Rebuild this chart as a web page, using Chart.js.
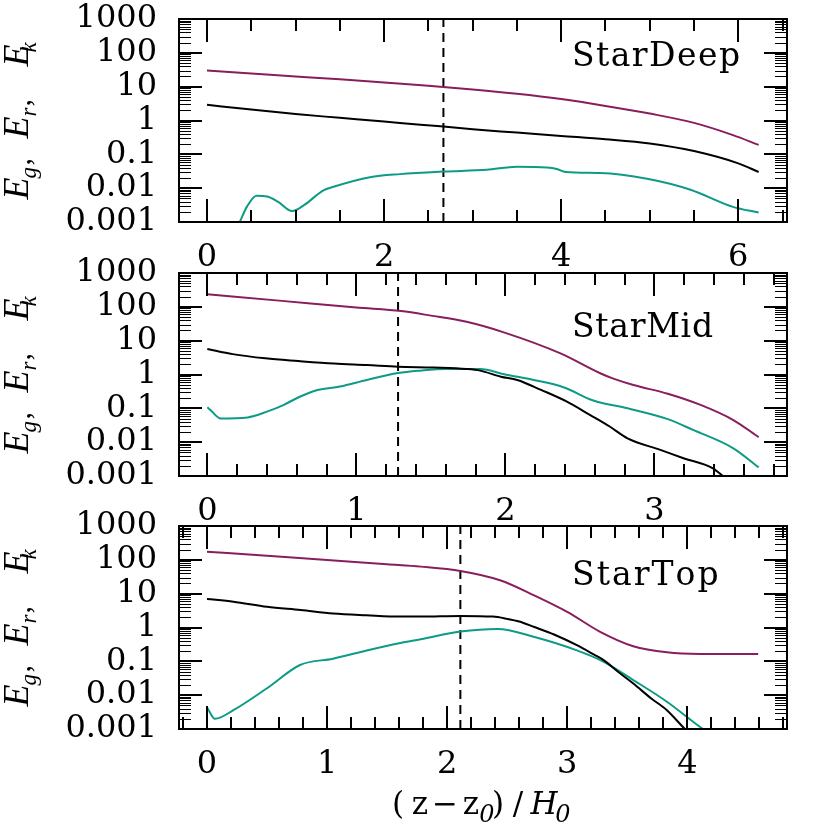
<!DOCTYPE html>
<html>
<head>
<meta charset="utf-8">
<script src="https://cdn.jsdelivr.net/npm/chart.js@4.4.1/dist/chart.umd.min.js"></script>
<style>
  html, body { margin: 0; padding: 0; background: #fff; }
  #wrap { position: relative; width: 830px; height: 830px; }
  #wrap canvas { position: absolute; left: 0; top: 0; }
</style>
</head>
<body>
<div id="wrap">
  <canvas id="c1" width="830" height="830"></canvas>
  <canvas id="c2" width="830" height="830"></canvas>
  <canvas id="c3" width="830" height="830"></canvas>
</div>
<script>
// ---------------- DATA ----------------
const yTickValues = [0.001, 0.01, 0.1, 1, 10, 100, 1000];
const yTickLabels = ["0.001", "0.01", "0.1", "1", "10", "100", "1000"];

// Panel 1: StarDeep
const deepX_Ek = [0, 0.5, 1, 1.5, 2, 2.5, 3, 3.5, 4, 4.5, 5, 5.5, 5.94, 6.23];
const deepEk   = [30, 24.5, 20, 16.5, 13.3, 10.7, 8.3, 6.2, 4.3, 2.7, 1.6, 0.85, 0.37, 0.19];
const deepX_Er = [0, 0.5, 1, 1.5, 2, 2.41, 2.67, 3, 3.5, 4, 4.5, 5, 5.5, 6, 6.23];
const deepEr   = [2.9, 2.1, 1.55, 1.2, 0.93, 0.75, 0.66, 0.55, 0.44, 0.35, 0.28, 0.21, 0.125, 0.054, 0.03];
const deepX_Eg = [0.33, 0.37, 0.45, 0.56, 0.68, 0.8, 0.96, 1.1, 1.31, 1.43, 1.84, 2.18, 2.67, 3.16, 3.5, 3.84, 3.95, 4.05, 4.44, 4.97, 5.46, 5.94, 6.23];
const deepEg   = [0.0006, 0.001, 0.0028, 0.006, 0.0057, 0.004, 0.0021, 0.0032, 0.0085, 0.011, 0.021, 0.026, 0.031, 0.035, 0.043, 0.041, 0.037, 0.03, 0.028, 0.019, 0.009, 0.0028, 0.0019];
const deepMark = 2.67;
const deepXTicks = [0, 2, 4, 6];

// Panel 2: StarMid
const midX_Ek = [0, 0.5, 1, 1.3, 1.5, 1.74, 2.0, 2.37, 2.64, 2.72, 2.86, 3.09, 3.31, 3.53, 3.70];
const midEk   = [234, 150, 95, 75, 55, 36, 17, 4.2, 1.07, 0.77, 0.49, 0.27, 0.126, 0.045, 0.014];
const midX_Er = [0, 0.17, 0.39, 0.61, 0.85, 1.07, 1.28, 1.52, 1.74, 1.83, 1.97, 2.08, 2.24, 2.41, 2.57, 2.7, 2.82, 3.04, 3.2, 3.39, 3.5];
const midEr   = [5.7, 4.0, 3.0, 2.5, 2.1, 1.9, 1.7, 1.6, 1.45, 1.3, 0.86, 0.69, 0.35, 0.16, 0.063, 0.029, 0.013, 0.0059, 0.0033, 0.0017, 0.0007];
const midX_Eg = [0, 0.02, 0.09, 0.27, 0.4, 0.51, 0.62, 0.74, 0.89, 1.07, 1.28, 1.43, 1.6, 1.83, 2.0, 2.19, 2.39, 2.59, 2.82, 3.09, 3.26, 3.53, 3.70];
const midEg   = [0.107, 0.09, 0.05, 0.054, 0.08, 0.125, 0.22, 0.35, 0.44, 0.69, 1.1, 1.3, 1.45, 1.45, 1.0, 0.69, 0.42, 0.17, 0.1, 0.048, 0.023, 0.0066, 0.0018];
const midMark = 1.28;
const midXTicks = [0, 1, 2, 3];

// Panel 3: StarTop
const topX_Ek = [0, 0.5, 1.0, 1.5, 1.78, 2.11, 2.44, 2.72, 3.0, 3.27, 3.55, 3.83, 4.11, 4.59];
const topEk   = [174, 131, 99, 74, 63, 47, 25, 9.1, 2.9, 0.76, 0.28, 0.185, 0.166, 0.165];
const topX_Er = [0, 0.22, 0.5, 0.78, 1.05, 1.33, 1.61, 1.78, 2.11, 2.38, 2.5, 2.6, 2.72, 2.89, 3.08, 3.22, 3.3, 3.42, 3.55, 3.7, 3.83, 3.98, 4.05];
const topEr   = [6.95, 5.8, 4.1, 3.3, 2.6, 2.3, 2.1, 2.1, 2.2, 2.1, 1.8, 1.5, 1.05, 0.62, 0.3, 0.16, 0.11, 0.05, 0.022, 0.008, 0.0036, 0.001, 0.0006];
const topX_Eg = [0, 0.067, 0.22, 0.5, 0.775, 1.05, 1.33, 1.61, 1.78, 2.11, 2.42, 2.72, 3.08, 3.3, 3.55, 3.83, 4.13, 4.2];
const topEg   = [0.0044, 0.002, 0.0036, 0.016, 0.078, 0.12, 0.21, 0.35, 0.45, 0.76, 0.91, 0.53, 0.21, 0.098, 0.028, 0.0064, 0.001, 0.0007];
const topMark = 2.11;
const topXTicks = [0, 1, 2, 3, 4];

// ---------------- STYLE ----------------
const COL_EK = '#8a1d5c';
const COL_ER = '#000000';
const COL_EG = '#0d9b85';
const TICK_FONT = { family: 'DejaVu Serif', size: 32 };

const zip = (xs, ys) => xs.map((x, i) => ({ x, y: ys[i] }));

const framePlugin = {
  id: 'frame',
  afterDatasetsDraw(chart, args, opts) {
    const { ctx, chartArea: a, scales: { x, y } } = chart;
    ctx.save();
    ctx.strokeStyle = '#000';
    ctx.lineWidth = 2;
    ctx.beginPath();
    const n0 = Math.ceil(x.min / opts.xMinor - 1e-9), n1 = Math.floor(x.max / opts.xMinor + 1e-9);
    for (let i = n0; i <= n1; i++) {
      const v = i * opts.xMinor;
      const px = Math.round(x.getPixelForValue(v));
      const r = v / opts.xMajor;
      const major = Math.abs(r - Math.round(r)) < 1e-6;
      const L = major ? 23 : 12;
      ctx.moveTo(px, a.bottom); ctx.lineTo(px, a.bottom - L);
      ctx.moveTo(px, a.top); ctx.lineTo(px, a.top + L);
    }
    for (let e = -3; e <= 3; e++) {
      const py = Math.round(y.getPixelForValue(Math.pow(10, e)));
      ctx.moveTo(a.left, py); ctx.lineTo(a.left + 23, py);
      ctx.moveTo(a.right, py); ctx.lineTo(a.right - 23, py);
    }
    ctx.stroke();
    ctx.lineWidth = 1.2;
    ctx.beginPath();
    for (let e = -3; e < 3; e++) {
      for (let m = 2; m <= 9; m++) {
        const py = Math.round(y.getPixelForValue(m * Math.pow(10, e))) + 0.5;
        ctx.moveTo(a.left, py); ctx.lineTo(a.left + 12, py);
        ctx.moveTo(a.right, py); ctx.lineTo(a.right - 12, py);
      }
    }
    ctx.stroke();
    ctx.lineWidth = 2;
    ctx.strokeRect(a.left, a.top, a.right - a.left, a.bottom - a.top);
    ctx.restore();
  }
};

const textPlugin = {
  id: 'texts',
  afterDraw(chart, args, opts) {
    const { ctx, chartArea: a } = chart;
    ctx.save();
    ctx.fillStyle = '#000';
    ctx.textBaseline = 'alphabetic';
    ctx.textAlign = 'left';
    // panel name, spread to the reference width
    ctx.font = '33px "DejaVu Serif"';
    const w0 = ctx.measureText(opts.name).width;
    const sp = (opts.nameW - w0) / (opts.name.length - 1);
    let cx = opts.nameX;
    for (const ch of opts.name) {
      ctx.fillText(ch, cx, a.top + opts.nameDY);
      cx += ctx.measureText(ch).width + sp;
    }
    // y-axis title (rotated)
    ctx.save();
    ctx.translate(28, (a.top + a.bottom) / 2);
    ctx.rotate(-Math.PI / 2);
    const big = 'italic 36px "Liberation Serif"';
    const sub = 'italic 23px "Liberation Serif"';
    const com = '30px "Liberation Serif"';
    const start = -79;
    const pieces = [
      ['E', big, 0, 0], ['g', sub, 21, 8], [',', com, 34, 2],
      ['E', big, 61, 0], ['r', sub, 83, 8], [',', com, 93, 2],
      ['E', big, 133, 0], ['k', sub, 147, 8]
    ];
    pieces.forEach(([t, f, dx, dy]) => { ctx.font = f; ctx.fillText(t, start + dx, dy); });
    ctx.restore();
    // x-axis title
    if (opts.xTitle) {
      ctx.save();
      ctx.translate((a.left + a.right) / 2, a.bottom + opts.xTitleDY);
      ctx.textAlign = 'center';
      const f = 'italic 31px "DejaVu Serif"';
      const fu = '31px "DejaVu Serif"';
      const fs = 'italic 24px "DejaVu Serif"';
      const xp = [
        ['(', fu, -85, 0], ['z', fu, -63, 0], ['\u2212', fu, -38, 0], ['z', fu, -12, 0], ['0', fs, 4, 8],
        [')', fu, 15, 0], ['/', fu, 35, 0], ['H', f, 61, 0], ['0', fs, 80, 8]
      ];
      xp.forEach(([t, ff, dx, dy]) => { ctx.font = ff; ctx.fillText(t, dx, dy); });
      ctx.restore();
    }
    ctx.restore();
  }
};

function makePanel(id, cfg) {
  const lineDs = (data, color) => ({
    data, borderColor: color, borderWidth: 2, pointRadius: 0, fill: false,
    tension: 0.4, cubicInterpolationMode: 'monotone'
  });
  return new Chart(document.getElementById(id), {
    type: 'line',
    data: {
      datasets: [
        lineDs(cfg.ek, COL_EK),
        lineDs(cfg.er, COL_ER),
        lineDs(cfg.eg, COL_EG),
        { data: [{ x: cfg.mark, y: 0.001 }, { x: cfg.mark, y: 1000 }], borderColor: '#000', borderWidth: 2,
          borderDash: [9, 6], pointRadius: 0, tension: 0 }
      ]
    },
    options: {
      responsive: false, animation: false, devicePixelRatio: 1,
      layout: { padding: { top: cfg.top, right: 43, left: 0, bottom: 0 } },
      plugins: {
        legend: { display: false }, tooltip: { enabled: false },
        frame: { xMajor: cfg.xMajor, xMinor: cfg.xMinor },
        texts: { name: cfg.name, nameX: 572, nameDY: cfg.nameDY, nameW: cfg.nameW, xTitle: cfg.xTitle, xTitleDY: 85 }
      },
      scales: {
        x: {
          type: 'linear', min: cfg.xmin, max: cfg.xmax,
          afterBuildTicks: s => { s.ticks = cfg.xTicks.map(v => ({ value: v })); },
          afterFit: s => { s.height = 830 - cfg.bottom; s.paddingLeft = 0; s.paddingRight = 0; },
          ticks: { font: TICK_FONT, color: '#000', padding: 16, maxRotation: 0, autoSkip: false,
                   callback: v => String(v) },
          grid: { display: false, drawTicks: false }, border: { display: false }
        },
        y: {
          type: 'logarithmic', min: 0.001, max: 1000,
          afterBuildTicks: s => { s.ticks = yTickValues.map(v => ({ value: v })); },
          afterFit: s => { s.width = 179; s.paddingTop = 0; s.paddingBottom = 0; },
          ticks: { font: TICK_FONT, color: '#000', padding: 22, autoSkip: false,
                   callback: (v, i) => yTickLabels[i] },
          grid: { display: false, drawTicks: false }, border: { display: false }
        }
      }
    },
    plugins: [framePlugin, textPlugin]
  });
}

makePanel('c1', {
  ek: zip(deepX_Ek, deepEk), er: zip(deepX_Er, deepEr), eg: zip(deepX_Eg, deepEg), mark: deepMark,
  xTicks: deepXTicks, xmin: -0.316, xmax: 6.55, xMajor: 2, xMinor: 0.5,
  top: 19, bottom: 222, name: 'StarDeep', nameDY: 47, nameW: 168
});
makePanel('c2', {
  ek: zip(midX_Ek, midEk), er: zip(midX_Er, midEr), eg: zip(midX_Eg, midEg), mark: midMark,
  xTicks: midXTicks, xmin: -0.19, xmax: 3.89, xMajor: 1, xMinor: 0.2,
  top: 273, bottom: 476, name: 'StarMid', nameDY: 64, nameW: 141
});
makePanel('c3', {
  ek: zip(topX_Ek, topEk), er: zip(topX_Er, topEr), eg: zip(topX_Eg, topEg), mark: topMark,
  xTicks: topXTicks, xmin: -0.233, xmax: 4.83, xMajor: 1, xMinor: 0.2,
  top: 526, bottom: 729, name: 'StarTop', nameDY: 59, nameW: 144, xTitle: true
});
</script>
</body>
</html>
